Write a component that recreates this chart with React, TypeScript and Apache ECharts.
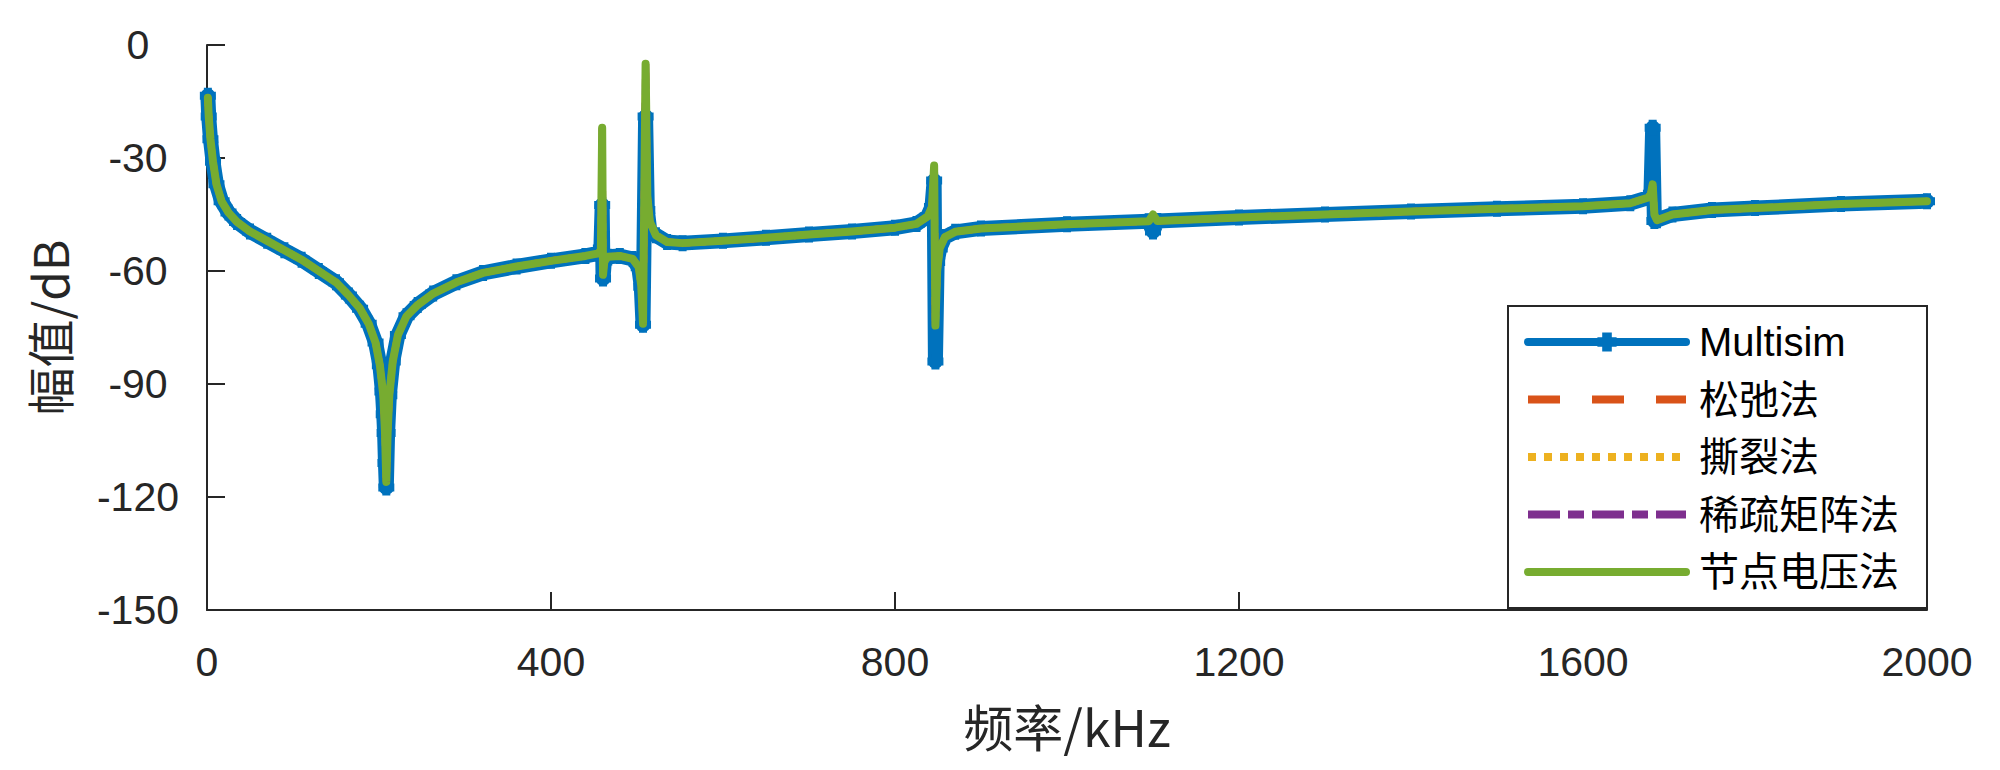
import React, { useEffect, useRef } from "react";
import * as echarts from "echarts";

// Frequencies (kHz) and magnitudes (dB)
const freqMultisim = [1, 2, 4, 7, 11, 17, 25, 35, 50, 70, 90, 110, 130, 150, 165, 178, 188, 196, 201, 204, 205.5, 206.5, 207.5, 208.5, 210, 212, 216, 222, 232, 245, 263, 290, 321, 360, 400, 440, 455, 458, 459.5, 460.5, 462, 466, 480, 495, 502, 505, 507, 510, 512, 515, 522, 535, 553, 600, 650, 700, 750, 800, 825, 838, 843, 845.5, 847, 849, 852, 858, 870, 900, 1000, 1095, 1100, 1105, 1200, 1300, 1400, 1500, 1600, 1655, 1676, 1679, 1681, 1683, 1686, 1704, 1750, 1800, 1900, 2000];
const magMultisim = [-13.5, -19, -25, -31, -37, -41.5, -44.5, -47, -49.5, -52, -54.5, -57, -60, -63, -66.5, -70, -74, -79, -85, -92, -98, -103, -111, -117.5, -103, -93, -84, -77, -72, -69, -66, -63, -60.5, -58.8, -57.3, -56, -55.3, -54, -42.5, -62, -57.5, -56.2, -56, -56.8, -59, -64.2, -74.3, -19, -43.8, -49.6, -50.5, -52.3, -52.6, -52, -51.2, -50.3, -49.5, -48.5, -47.5, -45.5, -43, -36, -84, -57.6, -54, -51, -49.6, -48.7, -47.6, -46.8, -49.5, -46.7, -45.8, -45, -44.2, -43.5, -42.8, -42, -40.5, -39.5, -22, -46.7, -46.5, -45, -43.8, -43.3, -42.2, -41.5];

const freqCalc = [1, 2, 4, 7, 11, 17, 25, 35, 50, 70, 90, 110, 130, 150, 165, 178, 188, 196, 201, 205, 207, 208.5, 210, 212, 216, 222, 232, 245, 263, 290, 321, 360, 400, 440, 455, 458, 459.5, 460.5, 462, 466, 480, 495, 502, 505, 507, 510, 512, 515, 522, 535, 553, 600, 650, 700, 750, 800, 825, 838, 843, 845.5, 847, 849, 852, 858, 870, 900, 1000, 1095, 1100, 1105, 1200, 1300, 1400, 1500, 1600, 1655, 1676, 1679, 1681, 1683, 1686, 1704, 1750, 1800, 1900, 2000];
const magRelaxation = [-14, -19, -25, -31, -37, -41.5, -44.5, -47, -49.5, -52, -54.5, -57, -60, -63, -66.5, -70, -74, -79, -85, -93, -103, -116, -103, -93, -84, -77, -72, -69, -66, -63, -60.5, -58.8, -57.3, -56, -55.3, -54.5, -22, -61, -57.5, -56.2, -56, -56.8, -59, -64, -74, -5, -40, -47, -50.5, -52.3, -52.6, -52, -51.2, -50.3, -49.5, -48.5, -47.5, -45.5, -43, -32, -74.5, -60, -54, -51, -49.6, -48.7, -47.6, -46.8, -45, -46.7, -45.8, -45, -44.2, -43.5, -42.8, -42, -40.5, -39.5, -37, -45, -46.5, -45, -43.8, -43.3, -42.2, -41.5];
const magTearing = [...magRelaxation];
const magSparse = [...magRelaxation];
const magNodal = [...magRelaxation];

const seriesNames = ["Multisim", "松弛法", "撕裂法", "稀疏矩阵法", "节点电压法"];
const seriesColors = ["#0072BD", "#D95319", "#EDB120", "#7E2F8E", "#77AC30"];

const pairs = (xs: number[], ys: number[]) => xs.map((x, i) => [x, ys[i]]);

const AXIS = "#262626";
const LATIN = "Arial, 'Liberation Sans', 'Noto Sans CJK SC', sans-serif";
const CJK = "'Noto Sans CJK SC', Arial, 'Liberation Sans', sans-serif";
const PLUS = "path://M4,0H12V4H16V12H12V16H4V12H0V4H4Z";

export default function App() {
  const ref = useRef<HTMLDivElement>(null);
  useEffect(() => {
    if (!ref.current) return;
    const chart = echarts.init(ref.current, undefined, { renderer: "svg" });
    chart.setOption({
      animation: false,
      backgroundColor: "#ffffff",
      grid: { left: 207, right: 73, top: 45, bottom: 160, containLabel: false, outerBoundsMode: "none" },
      xAxis: {
        type: "value",
        min: 0,
        max: 2000,
        interval: 400,
        name: "频率/kHz",
        nameLocation: "middle",
        nameGap: 90,
        nameTextStyle: { fontSize: 50, color: AXIS, fontFamily: CJK },
        axisLine: { show: true, onZero: false, lineStyle: { color: AXIS, width: 2 } },
        axisTick: { show: true, inside: true, length: 18, lineStyle: { color: AXIS, width: 2 } },
        axisLabel: { fontSize: 41, color: AXIS, margin: 31, fontFamily: LATIN, formatter: (v: number) => String(v) },
        splitLine: { show: false },
      },
      yAxis: {
        type: "value",
        min: -150,
        max: 0,
        interval: 30,
        name: "幅值/dB",
        nameLocation: "middle",
        nameGap: 135,
        nameTextStyle: { fontSize: 48, color: AXIS, fontFamily: CJK },
        axisLine: { show: true, onZero: false, lineStyle: { color: AXIS, width: 2 } },
        axisTick: { show: true, inside: true, length: 18, lineStyle: { color: AXIS, width: 2 } },
        axisLabel: { fontSize: 41, color: AXIS, margin: 69, align: "center", fontFamily: LATIN, formatter: (v: number) => String(v) },
        splitLine: { show: false },
      },
      legend: {
        orient: "vertical",
        left: 1508,
        top: 306,
        padding: [16, 28, 16, 16],
        itemWidth: 158,
        itemHeight: 24,
        itemGap: 17.5,
        backgroundColor: "#ffffff",
        borderColor: AXIS,
        borderWidth: 2,
        borderRadius: 0,
        selectedMode: false,
        lineStyle: { width: 8 },
        textStyle: { fontSize: 40, lineHeight: 40, color: "#000000", fontFamily: LATIN, padding: [0, 0, 0, 8] },
        data: [
          { name: seriesNames[0] },
          { name: seriesNames[1], itemStyle: { opacity: 0 } },
          { name: seriesNames[2], itemStyle: { opacity: 0 } },
          { name: seriesNames[3], itemStyle: { opacity: 0 } },
          { name: seriesNames[4], itemStyle: { opacity: 0 } },
        ],
      },
      series: [
        {
          name: seriesNames[0],
          type: "line",
          data: pairs(freqMultisim, magMultisim),
          color: seriesColors[0],
          lineStyle: { width: 15, color: seriesColors[0], cap: "round", join: "round" },
          symbol: PLUS,
          symbolSize: 16,
          showSymbol: true,
          itemStyle: { color: seriesColors[0] },
          z: 2,
        },
        {
          name: seriesNames[1],
          type: "line",
          data: pairs(freqCalc, magRelaxation),
          color: seriesColors[1],
          symbol: "none",
          lineStyle: { width: 7, color: seriesColors[1], type: [32, 32] },
          z: 3,
        },
        {
          name: seriesNames[2],
          type: "line",
          data: pairs(freqCalc, magTearing),
          color: seriesColors[2],
          symbol: "none",
          lineStyle: { width: 7, color: seriesColors[2], type: [8, 8] },
          z: 4,
        },
        {
          name: seriesNames[3],
          type: "line",
          data: pairs(freqCalc, magSparse),
          color: seriesColors[3],
          symbol: "none",
          lineStyle: { width: 7, color: seriesColors[3], type: [32, 8, 16, 8] },
          z: 5,
        },
        {
          name: seriesNames[4],
          type: "line",
          data: pairs(freqCalc, magNodal),
          color: seriesColors[4],
          symbol: "none",
          lineStyle: { width: 8, color: seriesColors[4], cap: "round", join: "round" },
          z: 6,
        },
      ],
    });
    return () => chart.dispose();
  }, []);
  return <div ref={ref} style={{ position: "fixed", left: 0, top: 0, width: 2000, height: 770 }} />;
}
